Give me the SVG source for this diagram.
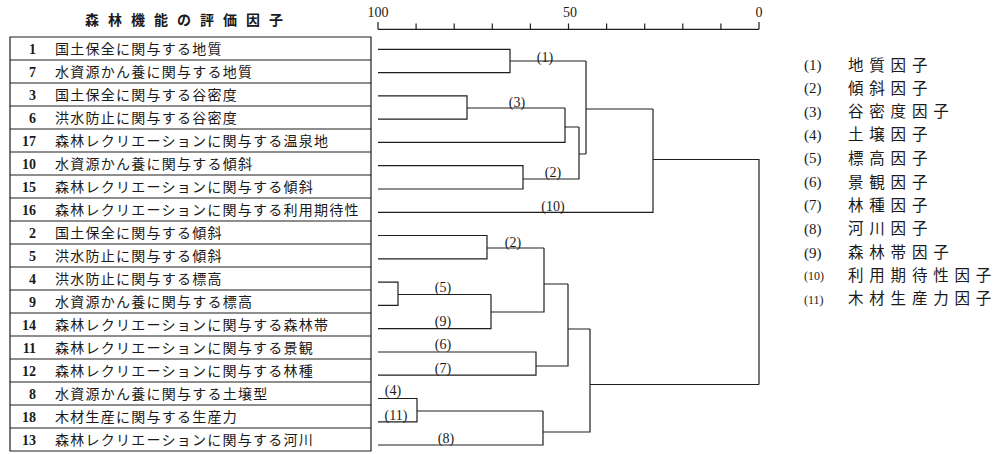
<svg xmlns="http://www.w3.org/2000/svg" width="996" height="454" viewBox="0 0 996 454">
<style>
.jp{font-family:"Noto Sans CJK JP","Noto Sans",sans-serif;fill:#1a1a1a}
.row{font-size:14px;letter-spacing:1.25px}
.num{font-family:"Liberation Serif",serif;font-size:14px;font-weight:bold;fill:#1a1a1a;text-anchor:end}
.lbl{font-family:"Liberation Serif",serif;font-size:14px;fill:#1a1a1a;text-anchor:middle}
.leg{font-size:15.5px;letter-spacing:5.8px}
.legn{font-family:"Liberation Serif",serif;font-size:15px;fill:#1a1a1a}
.legs{font-family:"Liberation Serif",serif;font-size:12px;fill:#1a1a1a}
.ln{stroke:#1e1e1e;stroke-width:1.2;fill:none}
</style>
<rect x="0" y="0" width="996" height="454" fill="#ffffff"/>
<text class="jp" x="85" y="25" style="font-size:14px;letter-spacing:9px;font-weight:bold">森林機能の評価因子</text>
<g id="scale">
<path class="ln" d="M378 29.3H759M378 22V29.3M416.1 23.5V29.3M454.2 23.5V29.3M492.3 23.5V29.3M530.4 23.5V29.3M568.5 23.5V29.3M606.6 23.5V29.3M644.7 23.5V29.3M682.8 23.5V29.3M720.9 23.5V29.3M759 22V29.3"/>
<text class="lbl" x="378" y="17">100</text>
<text class="lbl" x="570" y="17">50</text>
<text class="lbl" x="759" y="17">0</text>
</g>
<g id="table">
<path class="ln" d="M10 37H371V451H10Z M10 60H371M10 83H371M10 106H371M10 129H371M10 152H371M10 175H371M10 198H371M10 221H371M10 244H371M10 267H371M10 290H371M10 313H371M10 336H371M10 359H371M10 382H371M10 405H371M10 428H371"/>
</g>
<g id="r1"><text class="num" x="36" y="53.5">1</text><text class="jp row" x="55" y="53.5">国土保全に関与する地質</text></g>
<g id="r7"><text class="num" x="36" y="76.5">7</text><text class="jp row" x="55" y="76.5">水資源かん養に関与する地質</text></g>
<g id="r3"><text class="num" x="36" y="99.5">3</text><text class="jp row" x="55" y="99.5">国土保全に関与する谷密度</text></g>
<g id="r6"><text class="num" x="36" y="122.5">6</text><text class="jp row" x="55" y="122.5">洪水防止に関与する谷密度</text></g>
<g id="r17"><text class="num" x="36" y="145.5">17</text><text class="jp row" x="55" y="145.5">森林レクリエーションに関与する温泉地</text></g>
<g id="r10"><text class="num" x="36" y="168.5">10</text><text class="jp row" x="55" y="168.5">水資源かん養に関与する傾斜</text></g>
<g id="r15"><text class="num" x="36" y="191.5">15</text><text class="jp row" x="55" y="191.5">森林レクリエーションに関与する傾斜</text></g>
<g id="r16"><text class="num" x="36" y="214.5">16</text><text class="jp row" x="55" y="214.5">森林レクリエーションに関与する利用期待性</text></g>
<g id="r2"><text class="num" x="36" y="237.5">2</text><text class="jp row" x="55" y="237.5">国土保全に関与する傾斜</text></g>
<g id="r5"><text class="num" x="36" y="260.5">5</text><text class="jp row" x="55" y="260.5">洪水防止に関与する傾斜</text></g>
<g id="r4"><text class="num" x="36" y="283.5">4</text><text class="jp row" x="55" y="283.5">洪水防止に関与する標高</text></g>
<g id="r9"><text class="num" x="36" y="306.5">9</text><text class="jp row" x="55" y="306.5">水資源かん養に関与する標高</text></g>
<g id="r14"><text class="num" x="36" y="329.5">14</text><text class="jp row" x="55" y="329.5">森林レクリエーションに関与する森林帯</text></g>
<g id="r11"><text class="num" x="36" y="352.5">11</text><text class="jp row" x="55" y="352.5">森林レクリエーションに関与する景観</text></g>
<g id="r12"><text class="num" x="36" y="375.5">12</text><text class="jp row" x="55" y="375.5">森林レクリエーションに関与する林種</text></g>
<g id="r8"><text class="num" x="36" y="398.5">8</text><text class="jp row" x="55" y="398.5">水資源かん養に関与する土壌型</text></g>
<g id="r18"><text class="num" x="36" y="421.5">18</text><text class="jp row" x="55" y="421.5">木材生産に関与する生産力</text></g>
<g id="r13"><text class="num" x="36" y="444.5">13</text><text class="jp row" x="55" y="444.5">森林レクリエーションに関与する河川</text></g>
<g id="connectors">
<path class="ln" d="M378 49.3H510V72.6H378M510 61H586M378 95.9H467V119.1H378M467 108H565M378 142.4H565V108M565 127H579M378 165.7H523V189H378M523 179H579V127M579 154H586M586 61V154M586 109H653M378 212.3H653V109M653 159.5H759V384.5"/>
<path class="ln" d="M378 235.5H487V258.8H378M487 248H544M378 282.1H398V305.4H378M398 294.5H491M378 328.7H491V294.5M491 312H544V248M544 284H568M378 352H536V375.2H378M536 366H568V284M568 329H590M378 398.5H417V421.8H378M417 411H543M378 445H543V411M543 432H590V329M590 384.5H759"/>
</g>
<g id="cluster-labels">
<text class="lbl" x="545" y="62">(1)</text>
<text class="lbl" x="517" y="107">(3)</text>
<text class="lbl" x="553" y="177">(2)</text>
<text class="lbl" x="553" y="211">(10)</text>
<text class="lbl" x="513" y="247">(2)</text>
<text class="lbl" x="443" y="292">(5)</text>
<text class="lbl" x="443" y="326">(9)</text>
<text class="lbl" x="443" y="349">(6)</text>
<text class="lbl" x="443" y="373">(7)</text>
<text class="lbl" x="393" y="395">(4)</text>
<text class="lbl" x="396" y="420">(11)</text>
<text class="lbl" x="446" y="443">(8)</text>
</g>
<g id="legend">
<g id="lg1"><text class="legn" x="804" y="70">(1)</text><text class="jp leg" x="848" y="70.5">地質因子</text></g>
<g id="lg2"><text class="legn" x="804" y="93">(2)</text><text class="jp leg" x="848" y="93.5">傾斜因子</text></g>
<g id="lg3"><text class="legn" x="804" y="116.5">(3)</text><text class="jp leg" x="848" y="117">谷密度因子</text></g>
<g id="lg4"><text class="legn" x="804" y="139.5">(4)</text><text class="jp leg" x="848" y="140">土壌因子</text></g>
<g id="lg5"><text class="legn" x="804" y="163">(5)</text><text class="jp leg" x="848" y="163.5">標高因子</text></g>
<g id="lg6"><text class="legn" x="804" y="187">(6)</text><text class="jp leg" x="848" y="187.5">景観因子</text></g>
<g id="lg7"><text class="legn" x="804" y="210">(7)</text><text class="jp leg" x="848" y="210.5">林種因子</text></g>
<g id="lg8"><text class="legn" x="804" y="233.5">(8)</text><text class="jp leg" x="848" y="234">河川因子</text></g>
<g id="lg9"><text class="legn" x="804" y="257.5">(9)</text><text class="jp leg" x="848" y="258">森林帯因子</text></g>
<g id="lg10"><text class="legs" x="804" y="280">(10)</text><text class="jp leg" x="848" y="280.5">利用期待性因子</text></g>
<g id="lg11"><text class="legs" x="804" y="303.5">(11)</text><text class="jp leg" x="848" y="304">木材生産力因子</text></g>
</g>
</svg>
